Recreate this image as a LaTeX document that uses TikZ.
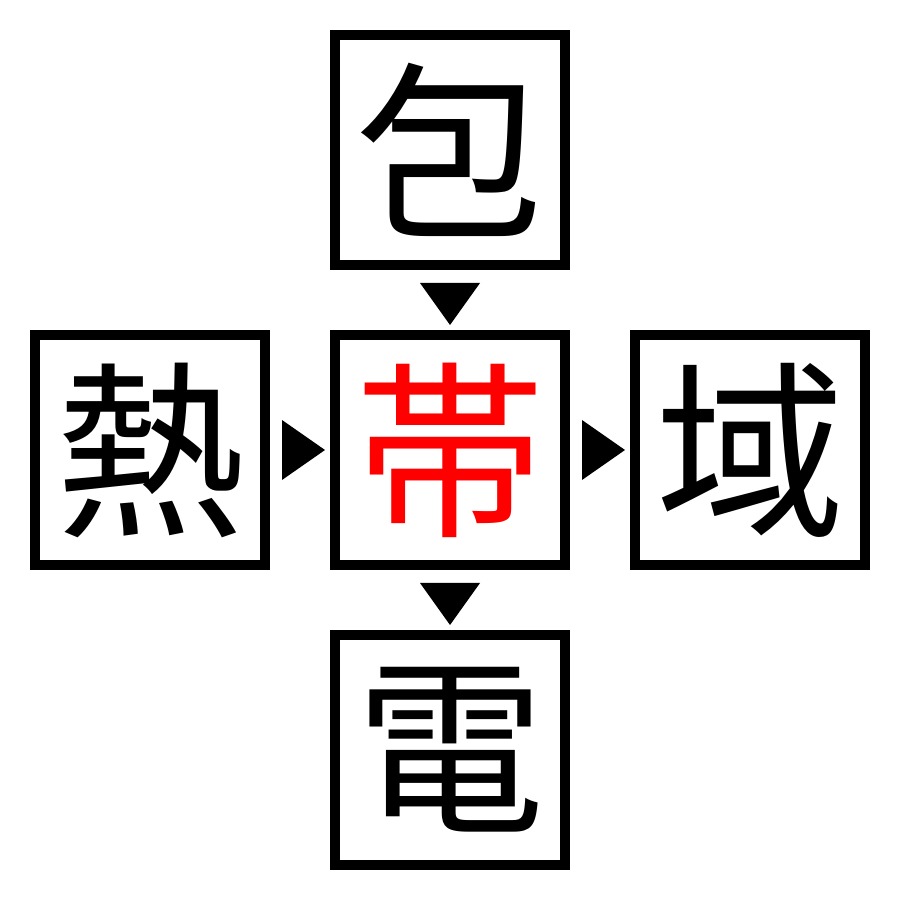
\documentclass[tikz,border=0pt]{standalone}
\usepackage{fontspec}
\newfontfamily\cjk{Noto Sans CJK JP}
\definecolor{hilite}{RGB}{255,0,0}

\begin{document}
\begin{tikzpicture}[x=0.2mm,y=0.2mm,
  kanji/.style={draw,line width=2mm,minimum size=46mm,inner sep=0pt,font=\cjk\fontsize{108pt}{108pt}\selectfont},
  ]
\useasboundingbox (0,0) rectangle (900,900); % frame
\node[kanji] (top) at (450,750) {包};
\node[kanji] (left) at (150,450) {熱};
\node[kanji,text=hilite] (mid) at (450,450) {帯};
\node[kanji] (right) at (750,450) {域};
\node[kanji] (bot) at (450,150) {電};

% arrow heads
\fill (420,617) -- (480,617) -- (450,575) -- cycle; % top to mid
\fill (282,480) -- (282,420) -- (325,450) -- cycle; % left to mid
\fill (582,480) -- (582,420) -- (625,450) -- cycle; % mid to right
\fill (420,317) -- (480,317) -- (450,275) -- cycle; % mid to bot
\end{tikzpicture}
\end{document}
